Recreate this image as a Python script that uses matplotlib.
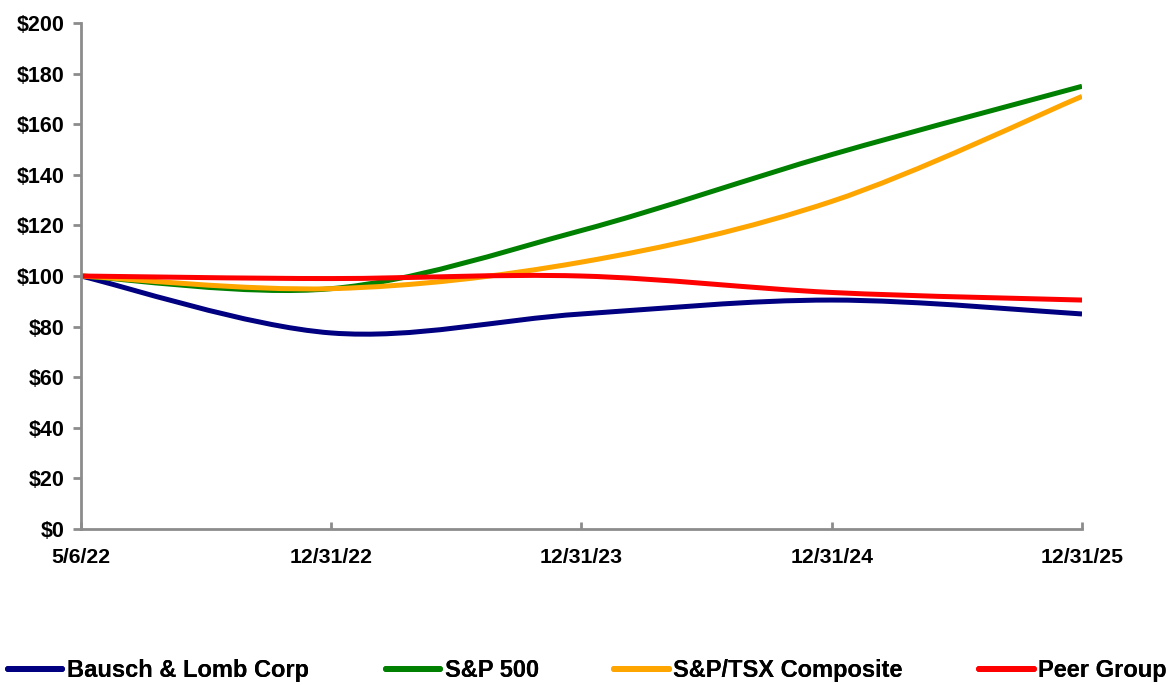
import matplotlib
matplotlib.use("Agg")
import matplotlib.pyplot as plt
from matplotlib.path import Path
from matplotlib.patches import PathPatch
from matplotlib.lines import Line2D

dates = ["5/6/22", "12/31/22", "12/31/23", "12/31/24", "12/31/25"]
bausch = [100, 77.5, 85, 90.5, 85]
sp500 = [100, 95, 118, 148, 175]
tsx = [100, 95, 105.5, 129.5, 171]
peer = [100, 99, 100, 93.5, 90.5]

names = ["Bausch & Lomb Corp", "S&P 500", "S&P/TSX Composite", "Peer Group"]
colors = ["#000080", "#008000", "#FFA500", "#FF0000"]

plt.rcParams['font.family'] = ['Liberation Sans', 'DejaVu Sans']
plt.rcParams['font.weight'] = 'bold'


def smooth_path(xs, ys):
    # excel-style smoothed line: cubic bezier pieces through the points
    verts = [(xs[0], ys[0])]
    codes = [Path.MOVETO]
    n = len(xs)
    for i in range(n - 1):
        x0, y0 = xs[max(i - 1, 0)], ys[max(i - 1, 0)]
        x1, y1 = xs[i], ys[i]
        x2, y2 = xs[i + 1], ys[i + 1]
        x3, y3 = xs[min(i + 2, n - 1)], ys[min(i + 2, n - 1)]
        c1 = (x1 + (x2 - x0) / 6, y1 + (y2 - y0) / 6)
        c2 = (x2 - (x3 - x1) / 6, y2 - (y3 - y1) / 6)
        verts += [c1, c2, (x2, y2)]
        codes += [Path.CURVE4] * 3
    return Path(verts, codes)


fig = plt.figure(figsize=(11.7, 6.85), dpi=100)
ax = fig.add_axes([0.0692, 0.2277, 0.8556, 0.7387])

xs = list(range(len(dates)))
handles = []
for vals, name, c in zip([bausch, sp500, tsx, peer], names, colors):
    ax.add_patch(PathPatch(smooth_path(xs, vals), fill=False, edgecolor=c,
                           lw=3.6, capstyle='butt', joinstyle='round'))
    handles.append(Line2D([], [], color=c, lw=4.3, solid_capstyle='round'))

ax.set_xlim(0, len(dates) - 1)
ax.set_ylim(0, 200)
ax.set_xticks(xs)
ax.set_xticklabels(dates)
ax.set_yticks(range(0, 201, 20))
ax.set_yticklabels(["$%d" % v for v in range(0, 201, 20)])

for s in ["top", "right"]:
    ax.spines[s].set_visible(False)
for s in ["left", "bottom"]:
    ax.spines[s].set_color("#8c8c8c")
    ax.spines[s].set_linewidth(2)
ax.tick_params(axis='y', direction='out', length=6, width=2, color="#8c8c8c",
               labelsize=15.5, pad=6)
ax.tick_params(axis='x', direction='in', length=5, width=2, color="#8c8c8c",
               labelsize=15.3, pad=14)

# legend entries spread along the bottom, one legend each
leg_x = [0.007, 0.330, 0.525, 0.837]
for h, name, lx in zip(handles, names, leg_x):
    leg = fig.legend([h], [name], loc='center left', bbox_to_anchor=(lx, 0.021),
                     frameon=False, fontsize=17, handlelength=2.3,
                     handletextpad=0.2, borderpad=0, borderaxespad=0)
    fig.add_artist(leg)

fig.savefig("out.png", dpi=100)
